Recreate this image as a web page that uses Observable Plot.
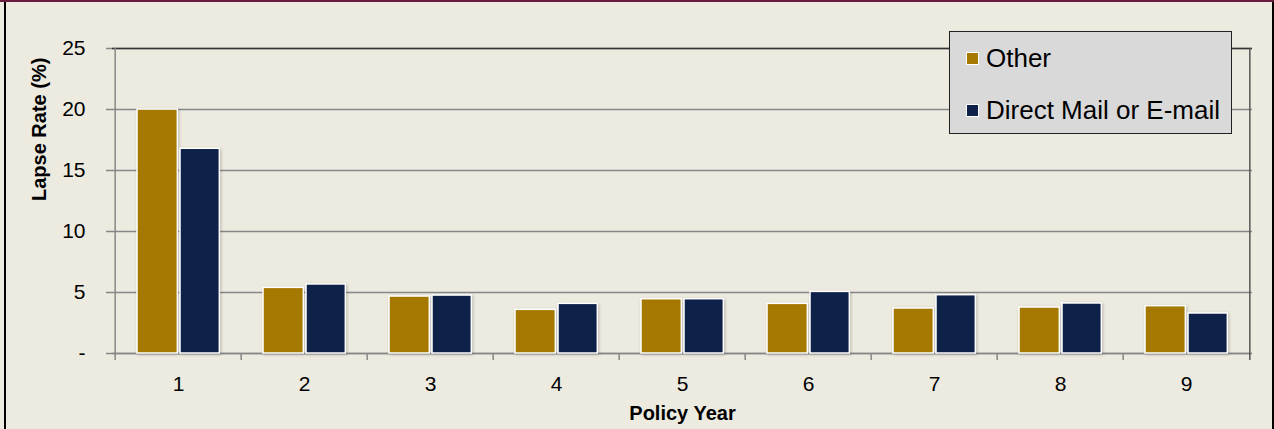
<!DOCTYPE html>
<html>
<head>
<meta charset="utf-8">
<script src="https://cdn.jsdelivr.net/npm/d3@7"></script>
<script src="https://cdn.jsdelivr.net/npm/@observablehq/plot@0.6"></script>
<style>
  html, body { margin: 0; padding: 0; background: #EDEBE0; }
  #wrap { position: relative; width: 1274px; height: 429px; background: #EDEBE0; overflow: hidden;
          font-family: "Liberation Sans", Arial, sans-serif; }
  #chart { position: absolute; left: 0; top: 0; }
  .bt { position: absolute; left: 0; top: 0; width: 1274px; height: 2px; background: #6B1B3F; }
  .bl { position: absolute; left: 4px; top: 2px; width: 2px; height: 427px; background: #000; }
  .br { position: absolute; left: 1272px; top: 2px; width: 2px; height: 427px; background: #000; }
  #legend { position: absolute; left: 949px; top: 31px; width: 281px; height: 101px;
            background: #D9D9D9; border: 1.5px solid #222; }
  .item { position: absolute; left: 16px; font-size: 26px; line-height: 26px; color: #000; white-space: nowrap; }
  .sw { display: inline-block; width: 11px; height: 11px; border: 1px solid #fff; margin-right: 7px; vertical-align: 2px; }
  svg g[aria-label="bar"] rect { filter: drop-shadow(1.5px 1.5px 1.5px rgba(0,0,0,0.22)); }
</style>
</head>
<body>
<div id="wrap">
  <div id="chart"></div>
  <div id="legend"></div>
  <div class="bt"></div><div class="bl"></div><div class="br"></div>
</div>
<script>
// ---- data ----
const years = [1, 2, 3, 4, 5, 6, 7, 8, 9];
const other = [20.0, 5.38, 4.67, 3.58, 4.45, 4.07, 3.69, 3.77, 3.88];
const direct = [16.78, 5.66, 4.75, 4.07, 4.45, 5.05, 4.78, 4.10, 3.28];
const seriesNames = ["Other", "Direct Mail or E-mail"];
const seriesColors = ["#A57800", "#0E2149"];
const yTicks = [0, 5, 10, 15, 20, 25];
const yTitle = "Lapse Rate (%)";
const xTitle = "Policy Year";

// ---- layout ----
const W = 1274, H = 429;
const mL = 112, mR = 22, mT = 48, mB = 76;
const step = (W - mL - mR) / years.length;

const rowsOther = years.map((y, i) => ({year: y, value: other[i]}));
const rowsDirect = years.map((y, i) => ({year: y, value: direct[i]}));

const grid = "#868686";

const plot = Plot.plot({
  width: W, height: H,
  marginLeft: mL, marginRight: mR, marginTop: mT, marginBottom: mB,
  style: {background: "transparent", fontFamily: "'Liberation Sans', Arial, sans-serif", fontSize: "21px", color: "#000"},
  x: {type: "band", domain: years, padding: 0},
  y: {domain: [0, 25]},
  marks: [
    Plot.gridY(yTicks, {stroke: grid, strokeOpacity: 1, strokeWidth: 1.5}),
    Plot.ruleY([0], {stroke: grid, strokeWidth: 1.5}),
    Plot.ruleY([25], {stroke: "#333", strokeWidth: 1.5}),
    Plot.ruleX([years[0]], {x: d => d, dx: -step / 2, stroke: grid, strokeWidth: 1.5, insetBottom: -7}),
    Plot.ruleX([years[years.length - 1]], {x: d => d, dx: step / 2, stroke: "#555", strokeWidth: 1.5, insetBottom: -7}),
    Plot.ruleX(years.slice(1), {x: d => d, dx: -step / 2, y1: 0, y2: 0, insetBottom: -7, stroke: grid, strokeWidth: 1.5}),
    Plot.barY(rowsOther, {x: "year", y: "value", fill: seriesColors[0], stroke: "#fff", strokeWidth: 1.5,
      insetLeft: 22, insetRight: step - 63}),
    Plot.barY(rowsDirect, {x: "year", y: "value", fill: seriesColors[1], stroke: "#fff", strokeWidth: 1.5,
      insetLeft: 65, insetRight: step - 105}),
    Plot.axisY({ticks: yTicks, tickFormat: d => d === 0 ? "-" : String(d), tickSize: 6, tickPadding: 21,
      stroke: grid, strokeWidth: 1.5, fontSize: 21, label: null}),
    Plot.axisX({tickSize: 0, tickPadding: 23, fontSize: 21, label: null}),
    Plot.text([yTitle], {frameAnchor: "left", rotate: -90, dx: -73, fontWeight: "bold", fontSize: 20, lineAnchor: "middle"}),
    Plot.text([xTitle], {frameAnchor: "bottom", dy: 60, fontWeight: "bold", fontSize: 20, lineAnchor: "middle"})
  ]
});
document.getElementById("chart").appendChild(plot);

// ---- legend ----
const legend = document.getElementById("legend");
const tops = [13, 65];
seriesNames.forEach((name, i) => {
  const d = document.createElement("div");
  d.className = "item";
  d.style.top = tops[i] + "px";
  const sw = document.createElement("span");
  sw.className = "sw";
  sw.style.background = seriesColors[i];
  d.appendChild(sw);
  d.appendChild(document.createTextNode(name));
  legend.appendChild(d);
});
</script>
</body>
</html>
